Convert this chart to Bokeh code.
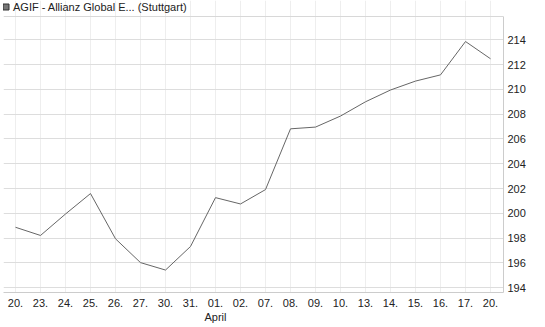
from bokeh.plotting import figure
from bokeh.models import Range1d, FixedTicker, Legend, LegendItem, ColumnDataSource, Grid
from bokeh.embed import file_html
from bokeh.resources import INLINE

title_text = "AGIF - Allianz Global E... (Stuttgart)"
date_labels = ["20.", "23.", "24.", "25.", "26.", "27.", "30.", "31.", "01.\nApril", "02.",
               "07.", "08.", "09.", "10.", "13.", "14.", "15.", "16.", "17.", "20."]
prices = [198.88, 198.22, 199.95, 201.6, 197.95, 196.03, 195.43, 197.33, 201.27, 200.76,
          201.92, 206.82, 206.96, 207.85, 209.0, 209.95, 210.67, 211.17, 213.86, 212.47]
y_ticks = [194, 196, 198, 200, 202, 204, 206, 208, 210, 212, 214]

idx = list(range(len(prices)))
src = ColumnDataSource(dict(x=idx, y=prices))

FONT = "Liberation Sans"
X0, X1 = -0.48, 19.52
Y0, YTOP = 193.62, 215.88          # plotted area
YMAX = Y0 + 292 / 12.4             # extra room above for the header

p = figure(width=545, height=327, output_backend="svg", toolbar_location=None,
           x_range=Range1d(X0, X1), y_range=Range1d(Y0, YMAX),
           y_axis_location="right",
           min_border_left=3, min_border_right=42, min_border_top=0, min_border_bottom=35)
p.outline_line_color = None

line = p.line("x", "y", source=src, line_color="#666666", line_width=1)
marker = p.scatter(x=[-100], y=[200], marker="square", size=7, fill_color="#777777",
                   line_color="#333333")

p.xaxis.ticker = FixedTicker(ticks=idx)
p.xaxis.major_label_overrides = {i: lab for i, lab in enumerate(date_labels)}
p.yaxis.ticker = FixedTicker(ticks=y_ticks)
p.yaxis.bounds = (Y0, YTOP)

for ax in p.axis:
    ax.major_tick_line_color = None
    ax.minor_tick_line_color = None
    ax.major_tick_out = 0
    ax.major_tick_in = 0
    ax.minor_tick_out = 0
    ax.axis_line_color = "#cccccc"
    ax.major_label_text_font = FONT
    ax.major_label_text_font_size = "11px"
    ax.major_label_text_color = "#222222"
p.xaxis.major_label_standoff = 4
p.yaxis.major_label_standoff = 4

p.xgrid.grid_line_color = "#eeeeee"
p.xgrid.bounds = (Y0, YTOP)
p.ygrid.grid_line_color = "#dddddd"

# frame border lines (top and left) limited to the plotted area
p.add_layout(Grid(dimension=0, ticker=FixedTicker(ticks=[X0]), bounds=(Y0, YTOP),
                  grid_line_color="#d0d0d0"))
p.add_layout(Grid(dimension=1, ticker=FixedTicker(ticks=[YTOP]),
                  grid_line_color="#d8d8d8"))

p.background_fill_color = "white"
p.border_fill_color = "white"

legend = Legend(items=[LegendItem(label=title_text, renderers=[marker])],
                location=(-5, 278), orientation="horizontal",
                padding=0, margin=0, spacing=0,
                glyph_width=15, glyph_height=15, label_height=12,
                label_standoff=0,
                label_text_font=FONT, label_text_font_size="11px", label_text_color="#222222",
                border_line_alpha=0, background_fill_alpha=0)
p.add_layout(legend)

open("out.html", "w").write(file_html(p, INLINE))
